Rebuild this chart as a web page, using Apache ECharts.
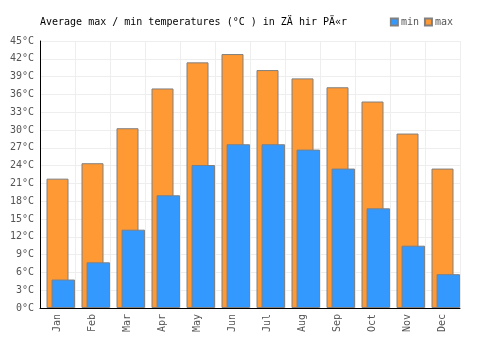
<!DOCTYPE html>
<html>
<head>
<meta charset="utf-8">
<script src="https://cdn.jsdelivr.net/npm/echarts@6/dist/echarts.min.js"></script>
<style>
    html, body { margin: 0; padding: 0; background: #fff; }
    #chart { width: 500px; height: 350px; }
</style>
</head>
<body>
<div id="chart"></div>
<script>
const months = ['Jan', 'Feb', 'Mar', 'Apr', 'May', 'Jun', 'Jul', 'Aug', 'Sep', 'Oct', 'Nov', 'Dec']
const maxTemps = [21.8, 24.4, 30.3, 37.0, 41.4, 42.8, 40.1, 38.7, 37.2, 34.8, 29.4, 23.5]
const minTemps = [4.8, 7.7, 13.2, 19.0, 24.1, 27.6, 27.6, 26.7, 23.5, 16.8, 10.5, 5.7]

const font = 'DejaVu Sans Mono'
const barBorder = { borderColor: '#808080', borderWidth: 1 }

const chart = echarts.init(document.getElementById('chart'), null, { renderer: 'canvas' })
chart.setOption({
    animation: false,
    title: {
        text: 'Average max / min temperatures (\u00B0C ) in Z\u00C4 hir P\u00C4\u00ABr',
        left: 35,
        top: 12,
        textStyle: { fontFamily: font, fontSize: 10, fontWeight: 'normal', color: '#000' }
    },
    legend: {
        data: ['min', 'max'],
        right: 42,
        top: 12,
        icon: 'rect',
        itemWidth: 7,
        itemHeight: 7,
        itemGap: 5,
        textStyle: { fontFamily: font, fontSize: 10, color: '#555', padding: [0, 0, 0, -2] }
    },
    // max bars sit centred, min bars are shifted right through a second grid
    grid: [
        { left: 40, right: 40, top: 41, bottom: 42 },
        { left: 45.8, right: 34.2, top: 41, bottom: 42 }
    ],
    xAxis: [{
        type: 'category',
        data: months,
        gridIndex: 0,
        axisLine: { lineStyle: { color: '#000', width: 1 } },
        axisTick: { show: false },
        axisLabel: { rotate: 90, fontFamily: font, fontSize: 10, color: '#555', margin: 6 },
        splitLine: { show: true, lineStyle: { color: '#eee' } }
    }, {
        type: 'category',
        data: months,
        gridIndex: 1,
        show: false
    }],
    yAxis: [{
        type: 'value',
        gridIndex: 0,
        min: 0,
        max: 45,
        interval: 3,
        axisLine: { show: true, lineStyle: { color: '#000', width: 1 } },
        axisTick: { show: false },
        axisLabel: { formatter: '{value}\u00B0C', fontFamily: font, fontSize: 10, color: '#555', margin: 6 },
        splitLine: { lineStyle: { color: '#eee' } }
    }, {
        type: 'value',
        gridIndex: 1,
        min: 0,
        max: 45,
        interval: 3,
        show: false,
        splitLine: { show: false }
    }],
    series: [{
        name: 'max',
        type: 'bar',
        xAxisIndex: 0,
        yAxisIndex: 0,
        barWidth: 22,
        itemStyle: Object.assign({ color: '#ff9933' }, barBorder),
        data: maxTemps
    }, {
        name: 'min',
        type: 'bar',
        xAxisIndex: 1,
        yAxisIndex: 1,
        barWidth: 23.5,
        itemStyle: Object.assign({ color: '#3399ff' }, barBorder),
        data: minTemps
    }]
})
</script>
</body>
</html>
